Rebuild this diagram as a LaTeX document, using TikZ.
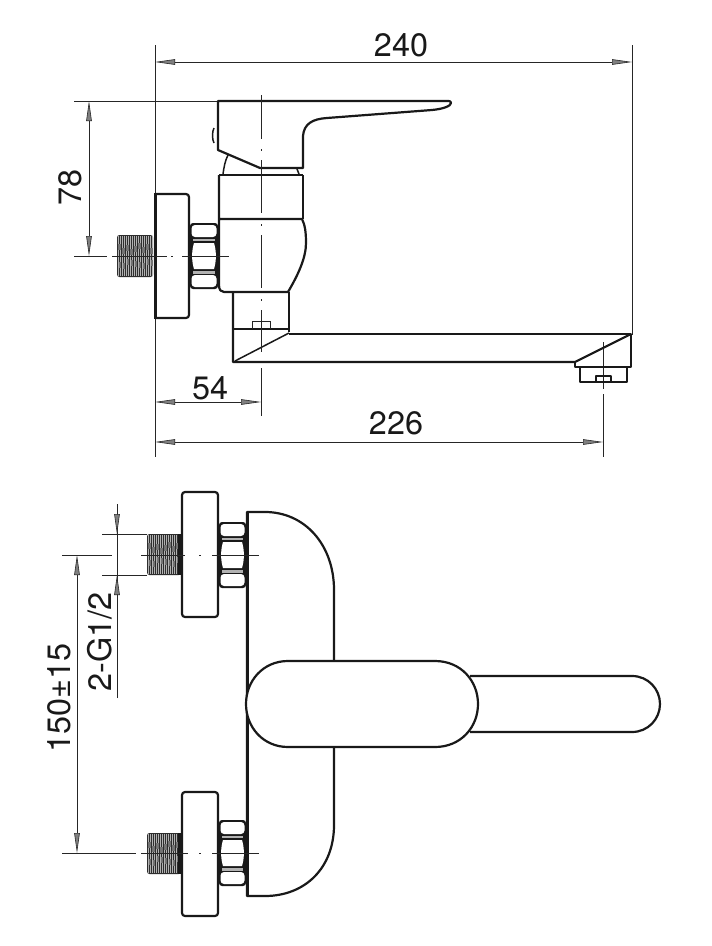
\documentclass[tikz,border=0pt]{standalone}
\usepackage{fontspec}
\setmainfont{TeX Gyre Heros}
\usetikzlibrary{arrows.meta}
\definecolor{ink}{gray}{0.1}
\tikzset{
  thick line/.style={line width=2.2bp,line join=round,ink},
  mid line/.style={line width=1.5bp,line join=round,ink},
  thin line/.style={line width=0.9bp,black!85},
  dim tip/.tip={Triangle[length=20bp,width=5.5bp,fill=black!50,line width=0.6bp]},
  dim line/.style={line width=0.9bp,black!85,{dim tip}-{dim tip}},
  dim text/.style={font=\fontsize{32.5}{32.5}\selectfont,inner sep=0pt,text=ink}
}
\newcommand{\threadpart}[4]{% x1 x2 ytop ybottom
  \fill[black!82,rounded corners=2.5bp] (#1,#3) rectangle (#2,#4);
  \pgfmathsetmacro{\tend}{#2-#1-2}
  \foreach \tx in {0,2,...,\tend}{
    \draw[line width=0.5bp,black!30] ({#1+1.4+\tx},{#3+1.2}) -- ({#1+1.4+\tx},{#4-1.2});
  }
  \foreach \tx in {1,5,...,\tend}{
    \fill[black!55] ({#1+\tx},{#3+8+mod(\tx,7)}) rectangle ({#1+\tx+2.5},{#3+14+mod(\tx,7)});
    \fill[black!55] ({#1+\tx+1},{#4-14-mod(\tx,5)}) rectangle ({#1+\tx+3},{#4-8-mod(\tx,5)});
  }
}
\newcommand{\nutpart}[3]{% xleft xright ycentre
  \fill[ink,rounded corners=3bp] (#1,#3-33) rectangle (#2,#3+33);
  \fill[white,rounded corners=3.5bp] (#1+1.5,#3-31) rectangle (#2-1.5,#3-19);
  \fill[white,rounded corners=3.5bp] (#1+1.5,#3+19) rectangle (#2-1.5,#3+31);
  \fill[black!30] (#1+3,#3-17.5) rectangle (#2-3,#3-14.8);
  \fill[black!30] (#1+3,#3+14.8) rectangle (#2-3,#3+17.5);
  \fill[white] (#1+4,#3-13) .. controls (#1+1.5,#3-5) and (#1+1.5,#3+5) .. (#1+4,#3+13)
    -- (#2-4,#3+13) .. controls (#2-1.5,#3+5) and (#2-1.5,#3-5) .. (#2-4,#3-13) -- cycle;
}
\begin{document}
\begin{tikzpicture}[x=1bp,y=-1bp]
\useasboundingbox (0,0) rectangle (712,946);
\fill[white] (0,0) rectangle (712,946);

% ---------- side view: extension lines
\draw[thin line] (155,45) -- (155,457);
\draw[thin line] (632,45) -- (632,335);
\draw[thin line] (74,101) -- (218,101);
\draw[thin line] (603,342) -- (603,389);
\draw[thin line] (603,394) -- (603,457);
% dimensions
\draw[dim line] (155,62) -- (632,62);
\draw[dim line] (89,101) -- (89,256);
\draw[dim line] (155,402) -- (261,402);
\draw[dim line] (155,442) -- (603,442);
\node[dim text] (d240) at (401,45) {240};
\node[dim text,rotate=90] (d78) at (70,187) {78};
\node[dim text] (d54) at (210,388) {54};
\node[dim text] (d226) at (396,423) {226};

% handle
\draw[thick line] (449,101) -- (218,101) -- (218,150) -- (260,168) -- (303,168) -- (303,136)
  .. controls (304,124) and (312,119) .. (327,118) -- (432,110) .. controls (443,109) and (451,106) .. (451,103) .. controls (451,102) and (450,101) .. (449,101);
\draw[mid line] (214,128) .. controls (212,132) and (212,139) .. (214,143);
\draw[mid line] (228,155) .. controls (225,161) and (224,167) .. (223,174);
\draw[mid line] (297,169) -- (299,174);
% collar and body
\draw[thick line] (219,175) -- (303,175);
\draw[thick line] (219,175) -- (219,285) .. controls (219,290) and (221,292) .. (224,292) -- (288,292)
   .. controls (298,275) and (306,258) .. (306,243) .. controls (306,232) and (305,225) .. (302,219) -- (298,219) -- (219,219);
\draw[thick line] (303,175) -- (303,219);
% lower neck and spout
\draw[thick line] (233,292) -- (233,362) -- (575,362) -- (631,334);
\draw[thick line] (289,292) -- (289,332);
\draw[line width=2.6bp,ink] (233,329) -- (289,329);
\draw[thick line] (289,334) -- (631,334) -- (631,367) -- (575,367) -- (575,362);
\draw[mid line] (235,361) -- (289,333);
\draw[thin line] (252,329) -- (252,321) -- (270,321) -- (270,329);
\draw[mid line] (580,367) -- (580,382) -- (627,382) -- (627,367);
\draw[mid line] (596,382) -- (596,376) -- (611,376) -- (611,382);
% flange, nut, thread
\draw[thick line,rounded corners=3bp] (155,194) -- (189,194) -- (189,318) -- (155,318);
\draw[line width=3bp,ink] (155,193) -- (155,319);
\nutpart{190}{218}{256}
\threadpart{117}{153}{235}{277}
% centre lines
\draw[thin line] (261,95) -- (261,139) (261,149) -- (261,151) (261,160) -- (261,213) (261,224) -- (261,226) (261,235) -- (261,288) (261,299) -- (261,301) (261,310) -- (261,352) (261,368) -- (261,416);
\draw[thin line] (74,256) -- (107,256) (112,256) -- (167,256) (171,256) -- (173,256) (182,256) -- (229,256);

% ---------- front view
\draw[thin line] (62,555) -- (112,555);
\draw[thin line] (62,853) -- (136,853);
\draw[thin line] (102,534) -- (147,534);
\draw[thin line] (102,575) -- (147,575);
\draw[dim line] (77,555) -- (77,853);
\draw[thin line] (117,504) -- (117,698);
\draw[thin line,-{dim tip}] (117,504) -- (117,534);
\draw[thin line,-{dim tip}] (117,698) -- (117,575);
\node[dim text,rotate=90] (dg) at (100,642) {2-G1/2};
\node[dim text,rotate=90] (d150) at (59,698) {150±15};

% body
\draw[thick line] (247,512) -- (265,512) .. controls (305,512) and (334,545) .. (334,590) -- (334,825)
  .. controls (334,868) and (305,896) .. (265,896) -- (247,896) -- cycle;
\draw[line width=3bp,ink] (247.5,512) -- (247.5,896);
% long handle seen from above
\draw[thick line] (470,676) -- (632,676) .. controls (648,676) and (660,689) .. (660,704)
  .. controls (660,719) and (648,732) .. (632,732) -- (470,732);
% lever
\draw[thick line,fill=white] (288,661) -- (435,661) .. controls (461,661) and (478,681) .. (478,704)
  .. controls (478,727) and (461,747) .. (435,747) -- (288,747)
  .. controls (263,747) and (246,727) .. (246,704) .. controls (246,681) and (263,661) .. (288,661) -- cycle;

% flanges / nuts / threads
\draw[thick line,rounded corners=3bp] (182,492) -- (218,492) -- (218,617) -- (182,617) -- cycle;
\draw[thick line,rounded corners=3bp] (182,792) -- (218,792) -- (218,916) -- (182,916) -- cycle;
\nutpart{219}{246}{555}
\nutpart{219}{246}{853}
\threadpart{147}{181}{534}{575}
\threadpart{147}{181}{833}{874}
\fill[ink] (178,534) rectangle (182,575);
\fill[ink] (178,833) rectangle (182,874);
\draw[thin line] (141,555) -- (185,555) (199,555) -- (201,555) (212,555) -- (259,555);
\draw[thin line] (141,853) -- (188,853) (199,853) -- (201,853) (212,853) -- (259,853);
\end{tikzpicture}
\end{document}
